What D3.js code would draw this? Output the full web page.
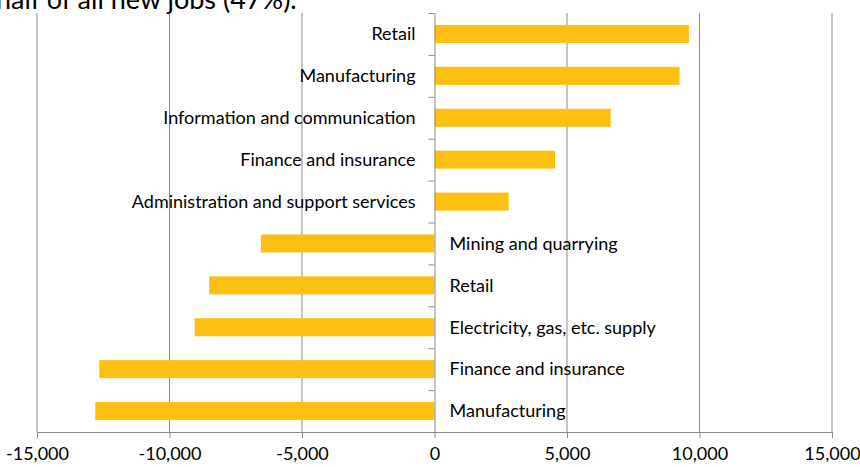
<!DOCTYPE html>
<html>
<head>
<meta charset="utf-8">
<script src="https://cdn.jsdelivr.net/npm/d3@7"></script>
<style>
  body { margin: 0; background: #fff; }
  svg text { font-family: Lato, "Open Sans", sans-serif; fill: #000; }
</style>
</head>
<body>
<svg id="chart" width="860" height="467"></svg>
<script>
// categories top to bottom (Retail etc. appear twice, so bars are keyed by index)
var categories = ["Retail", "Manufacturing", "Information and communication",
  "Finance and insurance", "Administration and support services",
  "Mining and quarrying", "Retail", "Electricity, gas, etc. supply",
  "Finance and insurance", "Manufacturing"];
var values = [9600, 9250, 6650, 4550, 2800, -6550, -8500, -9050, -12650, -12800];
var xTicks = [-15000, -10000, -5000, 0, 5000, 10000, 15000];
var titleText = "half of all new jobs (47%).";

var margin = { top: 13, right: 28, bottom: 35, left: 37 };
var W = 860, H = 467;

var svg = d3.select("#chart");

// title line, cut off at the top like the original screenshot
svg.append("text")
  .attr("x", -4)
  .attr("y", 9)
  .style("font-size", "27px")
  .text(titleText);

var x = d3.scaleLinear()
  .domain([-15000, 15000])
  .range([margin.left, W - margin.right]);

var idx = d3.range(categories.length);
var y = d3.scaleBand()
  .domain(idx)
  .range([margin.top, H - margin.bottom])
  .paddingInner(0.57)
  .paddingOuter(0.285);

// slot boundaries for the little category ticks
var ySlot = d3.scaleLinear()
  .domain([0, categories.length])
  .range([margin.top, H - margin.bottom]);

// vertical grid lines
svg.append("g")
  .selectAll("line")
  .data(xTicks.filter(function (d) { return d !== 0; }))
  .enter()
  .append("line")
  .attr("x1", function (d) { return x(d); })
  .attr("x2", function (d) { return x(d); })
  .attr("y1", margin.top)
  .attr("y2", H - margin.bottom)
  .attr("stroke", "#8c8c8c")
  .attr("stroke-width", 1);

// bars
svg.append("g")
  .selectAll("rect")
  .data(idx)
  .enter()
  .append("rect")
  .attr("x", function (i) { return x(Math.min(0, values[i])); })
  .attr("y", function (i) { return y(i); })
  .attr("width", function (i) { return Math.abs(x(values[i]) - x(0)); })
  .attr("height", y.bandwidth())
  .attr("fill", "#fcbf12");

// x axis
var xAxis = svg.append("g")
  .attr("transform", "translate(0," + (H - margin.bottom) + ")")
  .call(d3.axisBottom(x)
    .tickValues(xTicks)
    .tickSize(6)
    .tickSizeOuter(0)
    .tickPadding(9)
    .tickFormat(function (d) { return d3.format(",")(d).replace("\u2212", "-"); }));
xAxis.select(".domain").attr("stroke", "#8c8c8c");
xAxis.selectAll(".tick line").attr("stroke", "#8c8c8c");
xAxis.selectAll("text")
  .style("font-family", "Lato, sans-serif")
  .style("font-size", "18px")
  .attr("fill", "#000");

// category axis at zero
var yAxis = svg.append("g")
  .attr("transform", "translate(" + x(0) + ",0)")
  .call(d3.axisLeft(ySlot)
    .ticks(categories.length)
    .tickSize(6)
    .tickSizeOuter(0)
    .tickFormat(""));
yAxis.select(".domain").attr("stroke", "#8c8c8c");
yAxis.selectAll(".tick line").attr("stroke", "#8c8c8c");

// category labels: left of axis for gains, right of axis for losses
svg.append("g")
  .selectAll("text")
  .data(idx)
  .enter()
  .append("text")
  .attr("x", function (i) { return values[i] >= 0 ? x(0) - 19 : x(0) + 15; })
  .attr("y", function (i) { return y(i) + y.bandwidth() / 2; })
  .attr("dy", "0.35em")
  .attr("text-anchor", function (i) { return values[i] >= 0 ? "end" : "start"; })
  .style("font-size", "18px")
  .text(function (i) { return categories[i]; });
</script>
</body>
</html>
